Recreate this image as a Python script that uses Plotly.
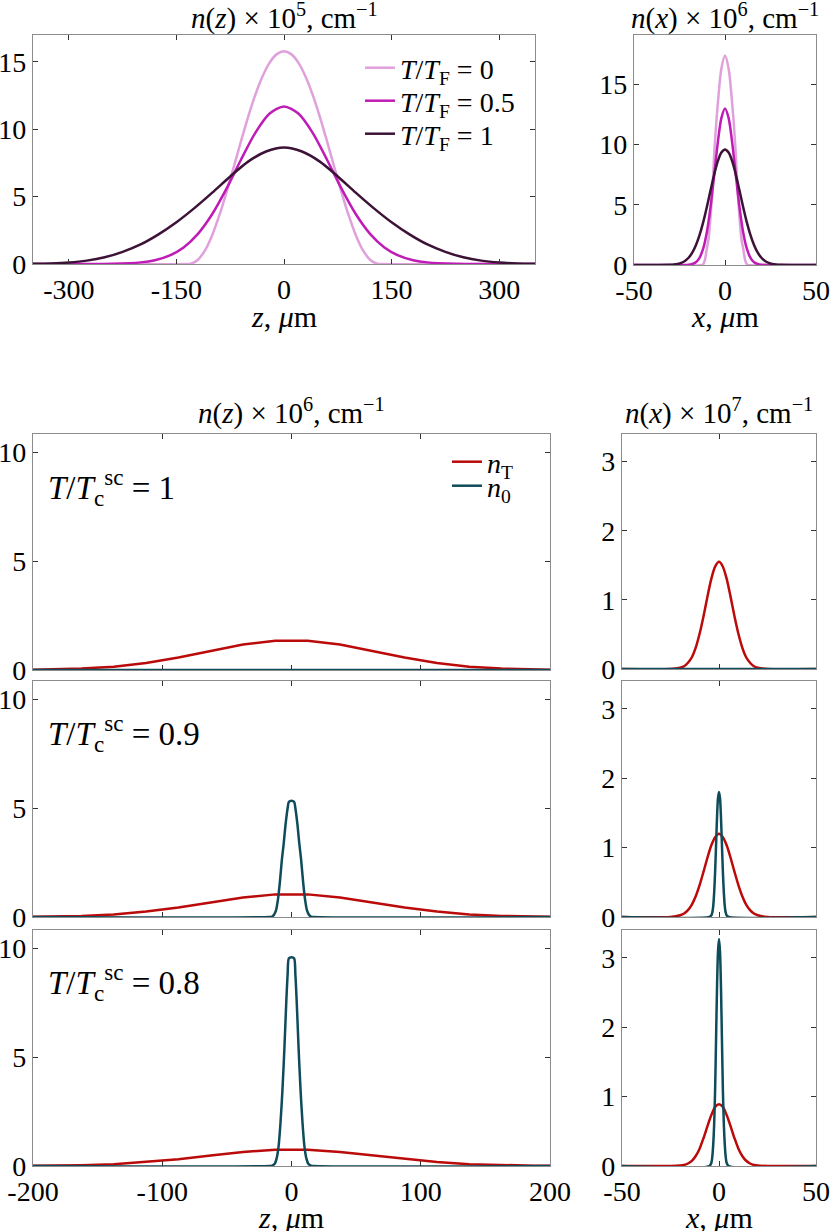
import plotly.graph_objects as go

# ---- top row: n(z) x 1e5 and n(x) x 1e6 for three T/T_F -------------------
z_tf0 = [-350, -135, -130, -120, -110, -100, -90, -80, -70, -60, -50, -40, -30, -20, -10, 0,
         10, 20, 30, 40, 50, 60, 70, 80, 90, 100, 110, 120, 130, 135, 350]
nz_tf0 = [0, 0, 0.02, 0.32, 1.03, 2.16, 3.64, 5.36, 7.22, 9.11, 10.93, 12.56, 13.92, 14.95, 15.58, 15.8,
          15.58, 14.95, 13.92, 12.56, 10.93, 9.11, 7.22, 5.36, 3.64, 2.16, 1.03, 0.32, 0.02, 0, 0]

z_tf05 = [-350, -280, -240, -200, -180, -160, -140, -120, -100, -80, -60, -40, -20, 0,
          20, 40, 60, 80, 100, 120, 140, 160, 180, 200, 240, 280, 350]
nz_tf05 = [0, 0.003, 0.02, 0.12, 0.28, 0.62, 1.23, 2.24, 3.71, 5.61, 7.74, 9.74, 11.17, 11.7,
           11.17, 9.74, 7.74, 5.61, 3.71, 2.24, 1.23, 0.62, 0.28, 0.12, 0.02, 0.003, 0]

z_tf1 = [-350, -325, -300, -275, -250, -225, -200, -175, -150, -125, -100, -75, -50, -25, 0,
         25, 50, 75, 100, 125, 150, 175, 200, 225, 250, 275, 300, 325, 350]
nz_tf1 = [0.01, 0.04, 0.11, 0.25, 0.5, 0.9, 1.45, 2.2, 3.1, 4.15, 5.3, 6.5, 7.6, 8.35, 8.65,
          8.35, 7.6, 6.5, 5.3, 4.15, 3.1, 2.2, 1.45, 0.9, 0.5, 0.25, 0.11, 0.04, 0.01]

x_tf0 = [-50, -12.5, -12, -11, -10, -9, -8, -7, -6, -5, -4, -2, 0,
         2, 4, 5, 6, 7, 8, 9, 10, 11, 12, 12.5, 50]
nx_tf0 = [0, 0, 0.05, 0.45, 1.35, 2.2, 3.9, 6.0, 9.0, 11.4, 13.3, 16.3, 17.4,
          16.3, 13.3, 11.4, 9.0, 6.0, 3.9, 2.2, 1.35, 0.45, 0.05, 0, 0]

x_tf05 = [-50, -25, -20, -18, -16, -14, -12, -10, -8, -6, -4, -2, 0,
          2, 4, 6, 8, 10, 12, 14, 16, 18, 20, 25, 50]
nx_tf05 = [0, 0, 0.02, 0.08, 0.23, 0.6, 1.35, 2.7, 4.76, 7.38, 10.1, 12.2, 13.0,
           12.2, 10.1, 7.38, 4.76, 2.7, 1.35, 0.6, 0.23, 0.08, 0.02, 0, 0]

x_tf1 = [-50, -30, -28, -26, -24, -22, -20, -18, -16, -14, -12, -10, -8, -6, -4, -2, 0,
         2, 4, 6, 8, 10, 12, 14, 16, 18, 20, 22, 24, 26, 28, 30, 50]
nx_tf1 = [0, 0.02, 0.04, 0.09, 0.18, 0.34, 0.6, 1.02, 1.64, 2.48, 3.54, 4.8, 6.16, 7.48, 8.6, 9.34, 9.6,
          9.34, 8.6, 7.48, 6.16, 4.8, 3.54, 2.48, 1.64, 1.02, 0.6, 0.34, 0.18, 0.09, 0.04, 0.02, 0]

# ---- bottom rows: thermal n_T and condensate n_0 at T/Tc = 1, 0.9, 0.8 ------
z_th = [-200, -187.5, -162.5, -137.5, -112.5, -87.5, -62.5, -37.5, -12.5,
        12.5, 37.5, 62.5, 87.5, 112.5, 137.5, 162.5, 187.5, 200]
nT_z_10 = [0.015, 0.024, 0.066, 0.155, 0.32, 0.57, 0.87, 1.17, 1.35,
           1.35, 1.17, 0.87, 0.57, 0.32, 0.155, 0.066, 0.024, 0.015]
nT_z_09 = [0.012, 0.02, 0.05, 0.12, 0.25, 0.44, 0.67, 0.9, 1.04,
           1.04, 0.9, 0.67, 0.44, 0.25, 0.12, 0.05, 0.02, 0.012]
nT_z_08 = [0.008, 0.013, 0.036, 0.085, 0.18, 0.31, 0.48, 0.64, 0.75,
           0.75, 0.64, 0.48, 0.31, 0.18, 0.085, 0.036, 0.013, 0.008]

z_c10 = [-200, 200]
n0_z_10 = [0, 0]
z_c09 = [-200, -17, -15, -13.5, -12, -10.5, -9, -7.5, -6, -4.5, -3, -2, 0,
         2, 3, 4.5, 6, 7.5, 9, 10.5, 12, 13.5, 15, 17, 200]
n0_z_09 = [0, 0, 0.02, 0.1, 0.3, 0.8, 1.6, 2.6, 3.4, 4.3, 5.0, 5.3, 5.35,
           5.3, 5.0, 4.3, 3.4, 2.6, 1.6, 0.8, 0.3, 0.1, 0.02, 0, 0]
z_c08 = [-200, -17, -15, -13, -11.5, -10, -8.5, -7, -5.5, -4, -3, -2, 0,
         2, 3, 4, 5.5, 7, 8.5, 10, 11.5, 13, 15, 17, 200]
n0_z_08 = [0, 0, 0.02, 0.1, 0.35, 0.9, 2.0, 3.5, 5.4, 7.6, 8.8, 9.55, 9.6,
           9.55, 8.8, 7.6, 5.4, 3.5, 2.0, 0.9, 0.35, 0.1, 0.02, 0, 0]

x_th = [-50, -25, -20, -18, -16, -14, -12, -10, -8, -6, -4, -2, 0,
        2, 4, 6, 8, 10, 12, 14, 16, 18, 20, 25, 50]
nT_x_10 = [0, 0, 0.02, 0.04, 0.09, 0.17, 0.31, 0.51, 0.76, 1.04, 1.30, 1.48, 1.55,
           1.48, 1.30, 1.04, 0.76, 0.51, 0.31, 0.17, 0.09, 0.04, 0.02, 0, 0]
nT_x_09 = [0, 0, 0.025, 0.05, 0.10, 0.18, 0.30, 0.46, 0.65, 0.85, 1.03, 1.15, 1.2,
           1.15, 1.03, 0.85, 0.65, 0.46, 0.30, 0.18, 0.10, 0.05, 0.025, 0, 0]
nT_x_08 = [0, 0, 0.006, 0.015, 0.036, 0.075, 0.145, 0.25, 0.40, 0.57, 0.73, 0.85, 0.89,
           0.85, 0.73, 0.57, 0.40, 0.25, 0.145, 0.075, 0.036, 0.015, 0.006, 0, 0]

x_c10 = [-50, 50]
n0_x_10 = [0, 0]
x_c = [-50, -5, -4, -3.5, -3, -2.5, -2, -1.5, -1, -0.5, 0,
       0.5, 1, 1.5, 2, 2.5, 3, 3.5, 4, 5, 50]
n0_x_09 = [0, 0, 0.02, 0.06, 0.15, 0.35, 0.65, 1.05, 1.45, 1.72, 1.8,
           1.72, 1.45, 1.05, 0.65, 0.35, 0.15, 0.06, 0.02, 0, 0]
n0_x_08 = [0, 0, 0.04, 0.12, 0.3, 0.6, 1.1, 1.85, 2.6, 3.1, 3.27,
           3.1, 2.6, 1.85, 1.1, 0.6, 0.3, 0.12, 0.04, 0, 0]

tf_labels = ['0', '0.5', '1']
tc_labels = ['1', '0.9', '0.8']

C_TF = ['#e0a0dc', '#bf1cb5', '#3c1237']
C_NT = '#bb0a0a'
C_N0 = '#0e4b5b'
SERIF = 'Liberation Serif'
W, H = 830, 1231

fig = go.Figure()


def add_line(x, y, color, n, name=None, legend='legend', shape='spline'):
    fig.add_trace(go.Scatter(
        x=x, y=y, mode='lines', name=name, showlegend=name is not None, legend=legend,
        line=dict(color=color, width=2.5, shape=shape, smoothing=0.8),
        xaxis='x' + n, yaxis='y' + n, hoverinfo='skip'))


# one legend box per entry so each row sits where the reference has it
tf_name = '<i>T</i>/<i>T</i><sub>F</sub> = '
tf_legends = ['legend', 'legend4', 'legend5']
for xs, ys, c, lab, lg in zip([z_tf0, z_tf05, z_tf1], [nz_tf0, nz_tf05, nz_tf1], C_TF, tf_labels, tf_legends):
    add_line(xs, ys, c, '', name=tf_name + lab, legend=lg)
for xs, ys, c in zip([x_tf0, x_tf05, x_tf1], [nx_tf0, nx_tf05, nx_tf1], C_TF):
    add_line(xs, ys, c, '2')

# left column (z) uses axes 3,5,7; right column (x) uses 4,6,8
add_line(z_th, nT_z_10, C_NT, '3', name='<i>n</i><sub>T</sub>', legend='legend2', shape='linear')
add_line(z_c10, n0_z_10, C_N0, '3', name='<i>n</i><sub>0</sub>', legend='legend3')
add_line(z_th, nT_z_09, C_NT, '5', shape='linear')
add_line(z_c09, n0_z_09, C_N0, '5')
add_line(z_th, nT_z_08, C_NT, '7', shape='linear')
add_line(z_c08, n0_z_08, C_N0, '7')
add_line(x_th, nT_x_10, C_NT, '4')
add_line(x_c10, n0_x_10, C_N0, '4')
add_line(x_th, nT_x_09, C_NT, '6')
add_line(x_c, n0_x_09, C_N0, '6')
add_line(x_th, nT_x_08, C_NT, '8')
add_line(x_c, n0_x_08, C_N0, '8')

base = dict(showline=True, linecolor='#8c8c8c', linewidth=1.2, mirror='ticks',
            ticks='inside', ticklen=5, tickwidth=1, tickcolor='#333',
            showgrid=False, zeroline=False, automargin=False,
            tickfont=dict(family=SERIF, size=28, color='black'))

# (axis suffix, left, right, top, bottom px, xrange, yrange, xticks, yticks, x labels)
panels = [
    ('', 33, 535, 35, 264, [-350, 350], [0, 17], [-300, -150, 0, 150, 300], [0, 5, 10, 15], True),
    ('2', 634, 816, 35, 265, [-50, 50], [0, 19.1], [-50, 0, 50], [0, 5, 10, 15], True),
    ('3', 33, 550, 434, 670, [-200, 200], [0, 10.85], [-200, -100, 0, 100, 200], [0, 5, 10], False),
    ('4', 622, 816, 434, 669, [-50, 50], [0, 3.4], [-50, 0, 50], [0, 1, 2, 3], False),
    ('5', 33, 550, 681, 917, [-200, 200], [0, 10.85], [-200, -100, 0, 100, 200], [0, 5, 10], False),
    ('6', 622, 816, 681, 917, [-50, 50], [0, 3.4], [-50, 0, 50], [0, 1, 2, 3], False),
    ('7', 33, 550, 930, 1166, [-200, 200], [0, 10.85], [-200, -100, 0, 100, 200], [0, 5, 10], True),
    ('8', 622, 816, 930, 1166, [-50, 50], [0, 3.4], [-50, 0, 50], [0, 1, 2, 3], True),
]

layout = {}
for n, l, r, t, b, xr, yr, xt, yt, xl in panels:
    layout['xaxis' + n] = dict(base, domain=[l / W, r / W], range=xr, anchor='y' + n,
                               tickvals=xt, ticktext=[str(v) for v in xt],
                               showticklabels=xl, ticklabelstandoff=0)
    layout['yaxis' + n] = dict(base, domain=[1 - b / H, 1 - t / H], range=yr, anchor='x' + n,
                               tickvals=yt, ticktext=[str(v) for v in yt], ticklabelstandoff=0)

fig.update_layout(**layout)

annotations = []


def text(x, y, s, size=29, xanchor='center'):
    annotations.append(dict(x=x / W, y=1 - y / H, xref='paper', yref='paper', text=s,
                            showarrow=False, xanchor=xanchor, yanchor='middle',
                            font=dict(family=SERIF, size=size, color='black')))


text(284, 17, '<i>n</i>(<i>z</i>) × 10<sup>5</sup>, cm<sup>−1</sup>')
text(725, 17, '<i>n</i>(<i>x</i>) × 10<sup>6</sup>, cm<sup>−1</sup>')
text(291, 411, '<i>n</i>(<i>z</i>) × 10<sup>6</sup>, cm<sup>−1</sup>')
text(719, 411, '<i>n</i>(<i>x</i>) × 10<sup>7</sup>, cm<sup>−1</sup>')
axis_lab = ', <i>μ</i>m'
text(284, 316, '<i>z</i>' + axis_lab, size=30)
text(725, 316, '<i>x</i>' + axis_lab, size=30)
text(291, 1217, '<i>z</i>' + axis_lab, size=30)
text(719, 1217, '<i>x</i>' + axis_lab, size=30)
for lab, yc in zip(tc_labels, [487, 733, 982]):
    text(46, yc, '<i>T</i>/<i>T</i><sub>c</sub><sup>sc</sup> = ' + lab, size=33, xanchor='left')

leg = dict(bgcolor='rgba(0,0,0,0)', borderwidth=0, xanchor='left', yanchor='middle',
           font=dict(family=SERIF, size=28, color='black'))

fig.update_layout(
    width=W, height=H, margin=dict(l=0, r=0, t=0, b=0),
    paper_bgcolor='white', plot_bgcolor='white',
    annotations=annotations,
    legend=dict(leg, x=360 / W, y=1 - 68 / H),
    legend4=dict(leg, x=360 / W, y=1 - 101 / H),
    legend5=dict(leg, x=360 / W, y=1 - 134 / H),
    legend2=dict(leg, x=447 / W, y=1 - 462 / H),
    legend3=dict(leg, x=447 / W, y=1 - 486 / H),
)

# the page's default body margin would shift the whole figure by 8 px
fig.write_html("out.html", config={'displayModeBar': False},
               post_script="document.body.style.margin='0';")
